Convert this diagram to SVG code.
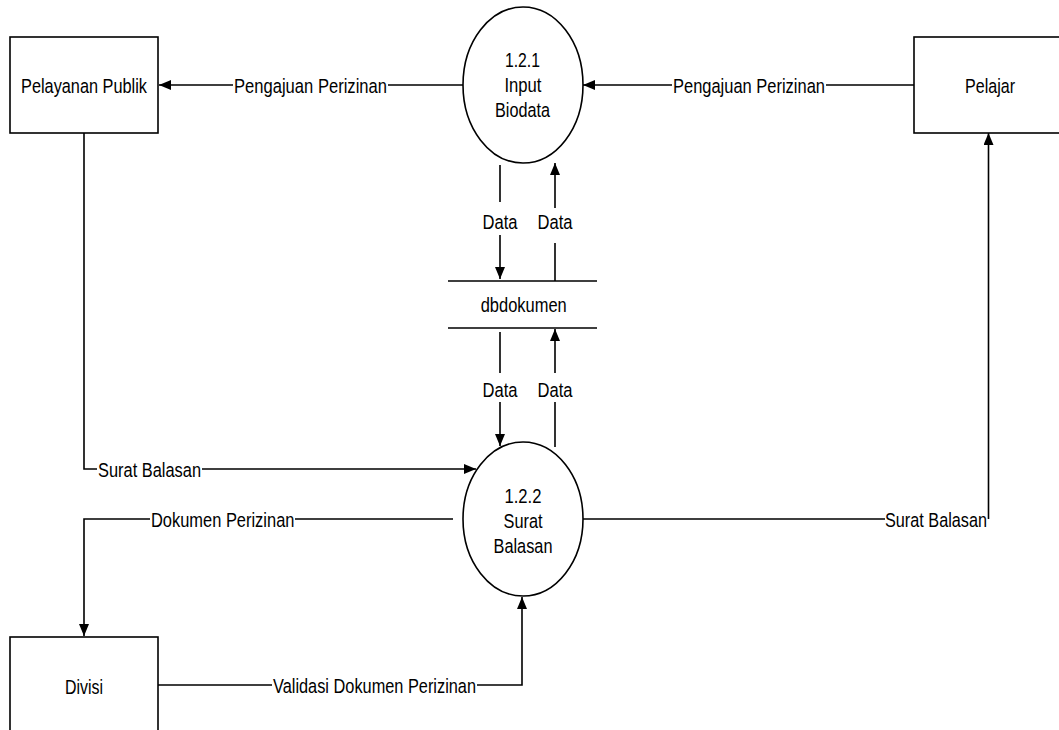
<svg xmlns="http://www.w3.org/2000/svg" width="1059" height="730" viewBox="0 0 1059 730">
<style>
.box{fill:#fff;stroke:#000;stroke-width:1.6}
.proc{fill:#fff;stroke:#000;stroke-width:1.6}
.store{stroke:#000;stroke-width:1.6;fill:none}
.flow{fill:none;stroke:#000;stroke-width:1.6;marker-end:url(#arr)}
text{font-family:"Liberation Sans",Arial,sans-serif;font-size:20.5px;fill:#000;text-anchor:middle}
</style>
<defs>
<marker id="arr" markerUnits="userSpaceOnUse" markerWidth="12" markerHeight="10" refX="12" refY="5" orient="auto">
<path d="M0,0 L12,5 L0,10 z" fill="#000"/>
</marker>
</defs>
<rect width="1059" height="730" fill="#fff"/>
<g id="connectors">
<path class="flow" d="M463,85 H388 M233,85 H159"/>
<text x="310.5" y="92.5" textLength="153" lengthAdjust="spacingAndGlyphs">Pengajuan Perizinan</text>
<path class="flow" d="M914,85 H826 M672,85 H583"/>
<text x="749" y="92.5" textLength="152" lengthAdjust="spacingAndGlyphs">Pengajuan Perizinan</text>
<path class="flow" d="M500,165 V202 M500,235 V279"/>
<text x="500" y="228.5" textLength="35" lengthAdjust="spacingAndGlyphs">Data</text>
<path class="flow" d="M555,281 V243 M555,208 V163"/>
<text x="555" y="228.5" textLength="35" lengthAdjust="spacingAndGlyphs">Data</text>
<path class="flow" d="M500,332 V373 M500,402 V446"/>
<text x="500" y="396.5" textLength="35" lengthAdjust="spacingAndGlyphs">Data</text>
<path class="flow" d="M555,447 V402 M555,373 V329"/>
<text x="555" y="396.5" textLength="35" lengthAdjust="spacingAndGlyphs">Data</text>
<path class="flow" d="M84,133 V469 H97 M202,469 H476"/>
<text x="149.5" y="476.5" textLength="103" lengthAdjust="spacingAndGlyphs">Surat Balasan</text>
<path class="flow" d="M453,519 H295 M150,519 H84 V636"/>
<text x="222.7" y="526.5" textLength="143.5" lengthAdjust="spacingAndGlyphs">Dokumen Perizinan</text>
<path class="flow" d="M158,685 H272 M477,685 H522 V597"/>
<text x="374.5" y="692.5" textLength="203" lengthAdjust="spacingAndGlyphs">Validasi Dokumen Perizinan</text>
<path class="flow" d="M583,519 H885 M988.5,519 V133"/>
<text x="936" y="526.5" textLength="102" lengthAdjust="spacingAndGlyphs">Surat Balasan</text>
</g>
<g id="pelayanan-publik">
<rect class="box" x="10" y="37" width="148" height="96"/>
<text x="84" y="92.5" textLength="126" lengthAdjust="spacingAndGlyphs">Pelayanan Publik</text>
</g>
<g id="pelajar">
<rect class="box" x="914" y="37" width="152" height="96"/>
<text x="990" y="93" textLength="50" lengthAdjust="spacingAndGlyphs">Pelajar</text>
</g>
<g id="divisi">
<rect class="box" x="10" y="637" width="148" height="96"/>
<text x="84" y="693.5" textLength="38" lengthAdjust="spacingAndGlyphs">Divisi</text>
</g>
<g id="p121">
<ellipse class="proc" cx="523" cy="85" rx="60" ry="78"/>
<text x="522.5" y="66.5" textLength="35" lengthAdjust="spacingAndGlyphs">1.2.1</text>
<text x="523" y="92" textLength="37" lengthAdjust="spacingAndGlyphs">Input</text>
<text x="522.5" y="117" textLength="55" lengthAdjust="spacingAndGlyphs">Biodata</text>
</g>
<g id="dbdokumen">
<path class="store" d="M448,281 H597 M448,328 H597"/>
<text x="523.7" y="312" textLength="86" lengthAdjust="spacingAndGlyphs">dbdokumen</text>
</g>
<g id="p122">
<ellipse class="proc" cx="523" cy="519" rx="60" ry="77"/>
<text x="523" y="502.5" textLength="37" lengthAdjust="spacingAndGlyphs">1.2.2</text>
<text x="523" y="527.5" textLength="39" lengthAdjust="spacingAndGlyphs">Surat</text>
<text x="523" y="552.5" textLength="59" lengthAdjust="spacingAndGlyphs">Balasan</text>
</g>
</svg>
